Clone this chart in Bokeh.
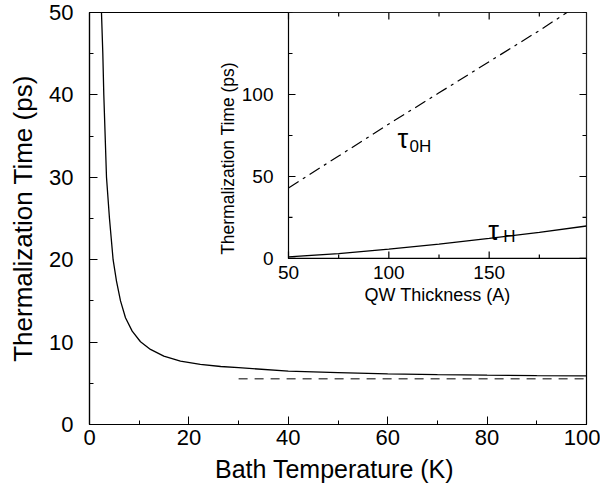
import math
from bokeh.plotting import figure
from bokeh.models import Range1d, SingleIntervalTicker
from bokeh.embed import file_html
from bokeh.resources import INLINE
from bokeh.core.properties import value

# ---------------- data: main panel ----------------
bath_T = [2.41, 2.68, 2.88, 3.15, 3.42, 4.02, 4.75, 5.43, 6.24, 7.24, 8.59, 10.26,
          12.27, 14.95, 18.3, 22.3, 26.4, 30, 40, 50, 60, 70, 80, 90, 100]
therm_time = [50, 45, 40, 35, 30, 25, 20, 17.4, 15, 12.95, 11.33, 10.04,
              9.11, 8.30, 7.69, 7.29, 7.04, 6.9, 6.47, 6.3, 6.15, 6.05, 5.99, 5.94, 5.9]
limit_T = [30, 99.5]
limit_time = [5.54, 5.54]

# ---------------- data: inset ----------------
qw_thick_0H = [50, 75, 100, 125, 150, 175, 190]
tau_0H = [43, 62.5, 82, 101, 120, 139, 151]
qw_thick_H = [50, 75, 100, 125, 150, 175, 198.5]
tau_H = [1.0, 3.0, 5.7, 8.8, 12.3, 15.9, 19.8]

# tick values / labels
inset_x_major = [50, 100, 150]
inset_x_minor = [75, 125, 175]
inset_y_major = [0, 50, 100]
inset_y_minor = [25, 75, 125, 150]

FONT = "Liberation Sans"

# inset extent (its own data units) and its place inside the main frame
IX_LO, IX_HI = 50, 198.5
IY_LO, IY_HI = 0, 150
FX = 0.4004  # fraction of main frame width left of the inset
FY = 0.403   # fraction of main frame height below the inset

ix_start = IX_LO - FX * (IX_HI - IX_LO) / (1 - FX)
iy_start = IY_LO - FY * (IY_HI - IY_LO) / (1 - FY)

p = figure(width=600, height=492, x_range=Range1d(0, 100), y_range=Range1d(0, 50),
           output_backend="svg", toolbar_location=None,
           min_border_left=89, min_border_right=14, min_border_top=12, min_border_bottom=68)
p.extra_x_ranges = {"ix": Range1d(ix_start, IX_HI)}
p.extra_y_ranges = {"iy": Range1d(iy_start, IY_HI)}

p.grid.visible = False
p.outline_line_color = "black"
p.outline_line_width = 1.2
p.background_fill_color = "white"
p.border_fill_color = "white"

# main axes
p.xaxis.ticker = SingleIntervalTicker(interval=20, num_minor_ticks=2)
p.yaxis.ticker = SingleIntervalTicker(interval=10, num_minor_ticks=2)
for ax in (p.xaxis[0], p.yaxis[0]):
    ax.major_tick_in = 8
    ax.major_tick_out = 0
    ax.minor_tick_in = 4
    ax.minor_tick_out = 0
    ax.axis_line_color = "black"
    ax.axis_line_width = 1.2
    ax.major_tick_line_color = "black"
    ax.minor_tick_line_color = "black"
    ax.major_label_text_font = FONT
    ax.major_label_text_font_size = "22px"
    ax.major_label_text_color = "black"
    ax.axis_label_text_font = FONT
    ax.axis_label_text_font_style = "normal"
    ax.axis_label_text_color = "black"
p.xaxis.axis_label = "Bath  Temperature (K)"
p.yaxis.axis_label = "Thermalization Time (ps)"
p.xaxis.axis_label_text_font_size = "25px"
p.yaxis.axis_label_text_font_size = "26px"
p.xaxis.major_label_standoff = 5
p.yaxis.major_label_standoff = 16
p.xaxis.axis_label_standoff = 7
p.yaxis.axis_label_standoff = 8

# main curves
p.line(bath_T, therm_time, line_color="black", line_width=1.3)
p.line(limit_T, limit_time, line_color="#555555", line_width=1.5, line_dash="9 7")

# ---------------- inset ----------------
p.quad(left=[IX_LO], right=[IX_HI], bottom=[IY_LO], top=[IY_HI],
       x_range_name="ix", y_range_name="iy",
       fill_color="white", line_color="black", line_width=1.2)

# inset ticks, all pointing inward
iy_all = inset_y_major + inset_y_minor
iy_len = [7] * len(inset_y_major) + [4] * len(inset_y_minor)
ix_all = inset_x_major + inset_x_minor
ix_len = [7] * len(inset_x_major) + [4] * len(inset_x_minor)
tick_kw = dict(length_units="screen", x_range_name="ix", y_range_name="iy",
               line_color="black", line_width=1.2)
p.ray(x=[IX_LO] * len(iy_all), y=iy_all, length=iy_len, angle=0, **tick_kw)          # left
p.ray(x=[IX_HI] * len(iy_all), y=iy_all, length=iy_len, angle=math.pi, **tick_kw)    # right
p.ray(x=ix_all, y=[IY_LO] * len(ix_all), length=ix_len, angle=math.pi / 2, **tick_kw)   # bottom
p.ray(x=ix_all, y=[IY_HI] * len(ix_all), length=ix_len, angle=-math.pi / 2, **tick_kw)  # top

# inset tick labels
p.text(x=[IX_LO] * len(inset_y_major), y=inset_y_major, text=[str(v) for v in inset_y_major],
       x_range_name="ix", y_range_name="iy", x_offset=-15,
       text_align="right", text_baseline="middle", text_font=value(FONT),
       text_font_size="19px", text_color="black")
p.text(x=inset_x_major, y=[IY_LO] * len(inset_x_major), text=[str(v) for v in inset_x_major],
       x_range_name="ix", y_range_name="iy", y_offset=8,
       text_align="center", text_baseline="top", text_font=value(FONT),
       text_font_size="19px", text_color="black")
# inset axis labels
p.text(x=[(IX_LO + IX_HI) / 2], y=[IY_LO], text=["QW Thickness (A)"],
       x_range_name="ix", y_range_name="iy", y_offset=27,
       text_align="center", text_baseline="top", text_font=value(FONT),
       text_font_size="18px", text_color="black")
p.text(x=[IX_LO], y=[61], text=["Thermalization Time (ps)"],
       x_range_name="ix", y_range_name="iy", x_offset=-60, angle=math.pi / 2,
       text_align="center", text_baseline="middle", text_font=value(FONT),
       text_font_size="17.5px", text_color="black")

# inset curves
p.line(qw_thick_0H, tau_0H, x_range_name="ix", y_range_name="iy",
       line_color="black", line_width=1.2, line_dash="12 5 3 5")
p.line(qw_thick_H, tau_H, x_range_name="ix", y_range_name="iy",
       line_color="black", line_width=1.3)

# curve labels (tau with subscript)
p.text(x=[104.3, 149.6], y=[73, 16.5], text=["τ", "τ"],
       x_range_name="ix", y_range_name="iy", text_align="left", text_baseline="alphabetic",
       text_font=value(FONT), text_font_size="27px", text_color="black")
p.text(x=[110.3, 157], y=[68.5, 13.3], text=["0H", "H"],
       x_range_name="ix", y_range_name="iy", text_align="left", text_baseline="alphabetic",
       text_font=value(FONT), text_font_size="17px", text_color="black")

open("out.html", "w").write(file_html(p, INLINE))
